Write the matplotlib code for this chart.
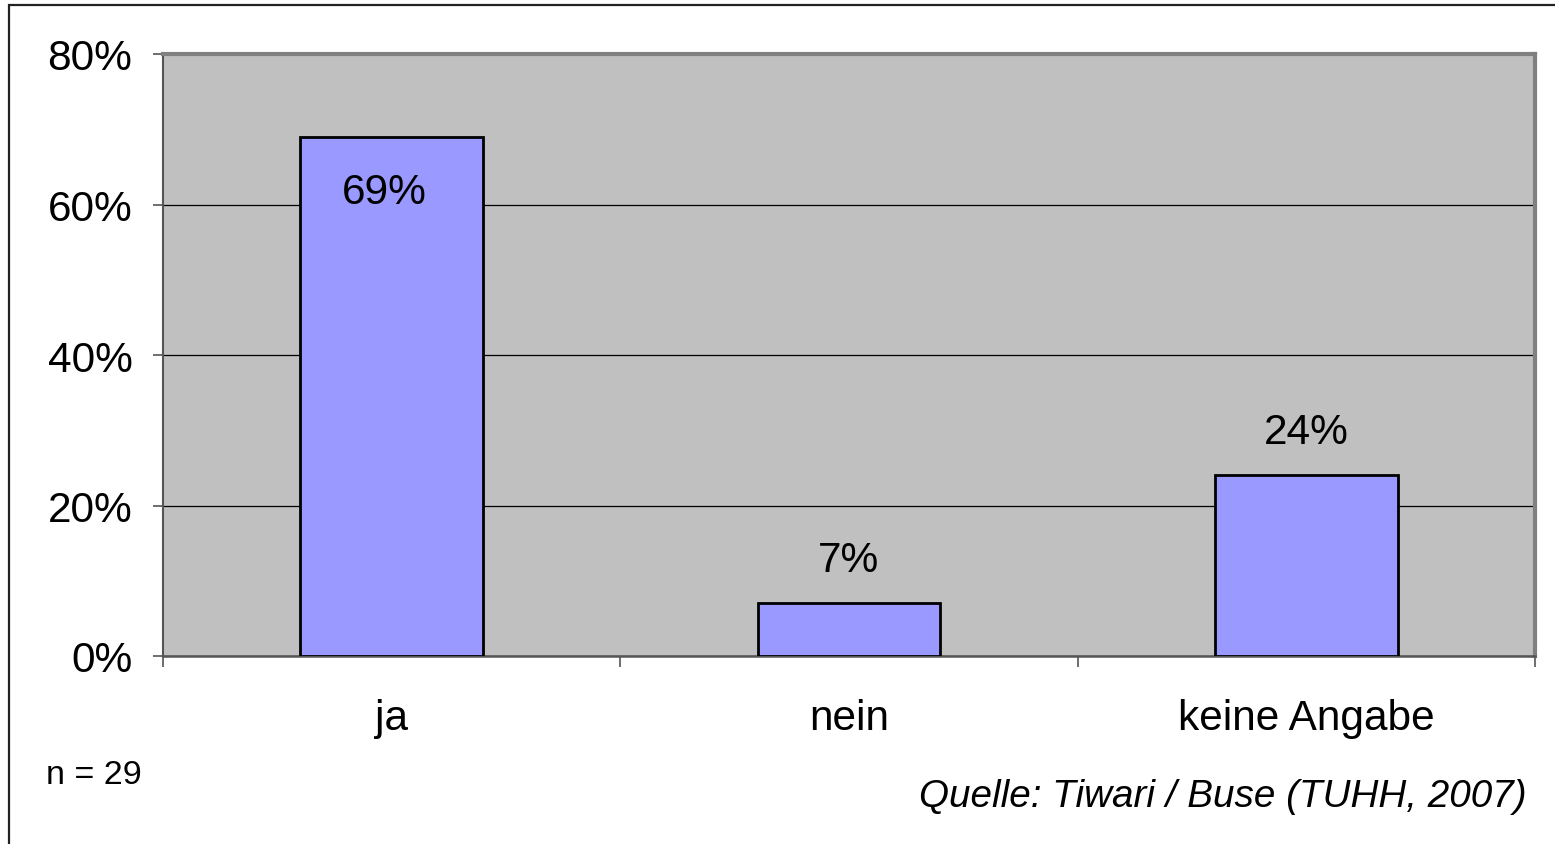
import matplotlib
matplotlib.use("Agg")
import matplotlib.pyplot as plt
from matplotlib.patches import Rectangle

categories = ["ja", "nein", "keine Angabe"]
shares = [69, 7, 24]
value_labels = ["69%", "7%", "24%"]
y_ticks = [0, 20, 40, 60, 80]
y_tick_labels = ["0%", "20%", "40%", "60%", "80%"]

W, H = 1555, 845
fig = plt.figure(figsize=(W / 100, H / 100), dpi=100)
plt.rcParams["font.family"] = ["Liberation Sans", "DejaVu Sans"]

# outer frame of the slide graphic
fig.patches.append(Rectangle((9 / W, -0.05), 1.2, 1 - 6 / H + 0.05,
                             transform=fig.transFigure, fill=False,
                             edgecolor="#222222", linewidth=1.6))

ax = fig.add_axes([163 / W, 1 - 657 / H, (1535 - 163) / W, (657 - 55) / H])
ax.set_facecolor("#C0C0C0")

x = list(range(len(categories)))
ax.bar(x, shares, width=0.4, color="#9999FF", edgecolor="black", linewidth=2, zorder=3)

ax.set_xlim(-0.5, len(categories) - 0.5)
ax.set_ylim(0, 80)
ax.set_yticks(y_ticks)
ax.set_yticklabels(y_tick_labels, fontsize=30.5)
ax.yaxis.grid(True, color="black", linewidth=0.9, zorder=1)
ax.set_axisbelow(True)

# category ticks sit between the groups, labels at group centres
ax.set_xticks([i - 0.5 for i in range(len(categories) + 1)])
ax.set_xticklabels([])
ax.set_xticks(x, minor=True)
ax.set_xticklabels(categories, minor=True, fontsize=30.5)
ax.tick_params(axis="x", which="minor", length=0, pad=30)
ax.tick_params(axis="x", which="major", length=8, width=1.2, color="#555555", direction="out")
ax.tick_params(axis="y", length=7, width=1.2, color="#555555", direction="out", pad=15)

for side in ["top", "right"]:
    ax.spines[side].set_color("#808080")
    ax.spines[side].set_linewidth(3)
ax.spines["left"].set_color("#555555")
ax.spines["left"].set_linewidth(1.5)
ax.spines["bottom"].set_color("#555555")
ax.spines["bottom"].set_linewidth(1.8)

for xi, val, lab in zip(x, shares, value_labels):
    if val > 50:
        ax.annotate(lab, (xi, val), xytext=(-5, -40), textcoords="offset points",
                    ha="center", va="center", fontsize=30.5, zorder=4)
    else:
        ax.annotate(lab, (xi, val), xytext=(0, 31), textcoords="offset points",
                    ha="center", va="center", fontsize=30.5, zorder=4)

fig.text(46 / W, 1 - 776 / H, "n = 29", fontsize=24.5, ha="left", va="center")
fig.text(1527 / W, 1 - 797 / H, "Quelle: Tiwari / Buse (TUHH, 2007)", fontsize=27.8,
         style="italic", ha="right", va="center")

fig.savefig("out.png", dpi=100)
